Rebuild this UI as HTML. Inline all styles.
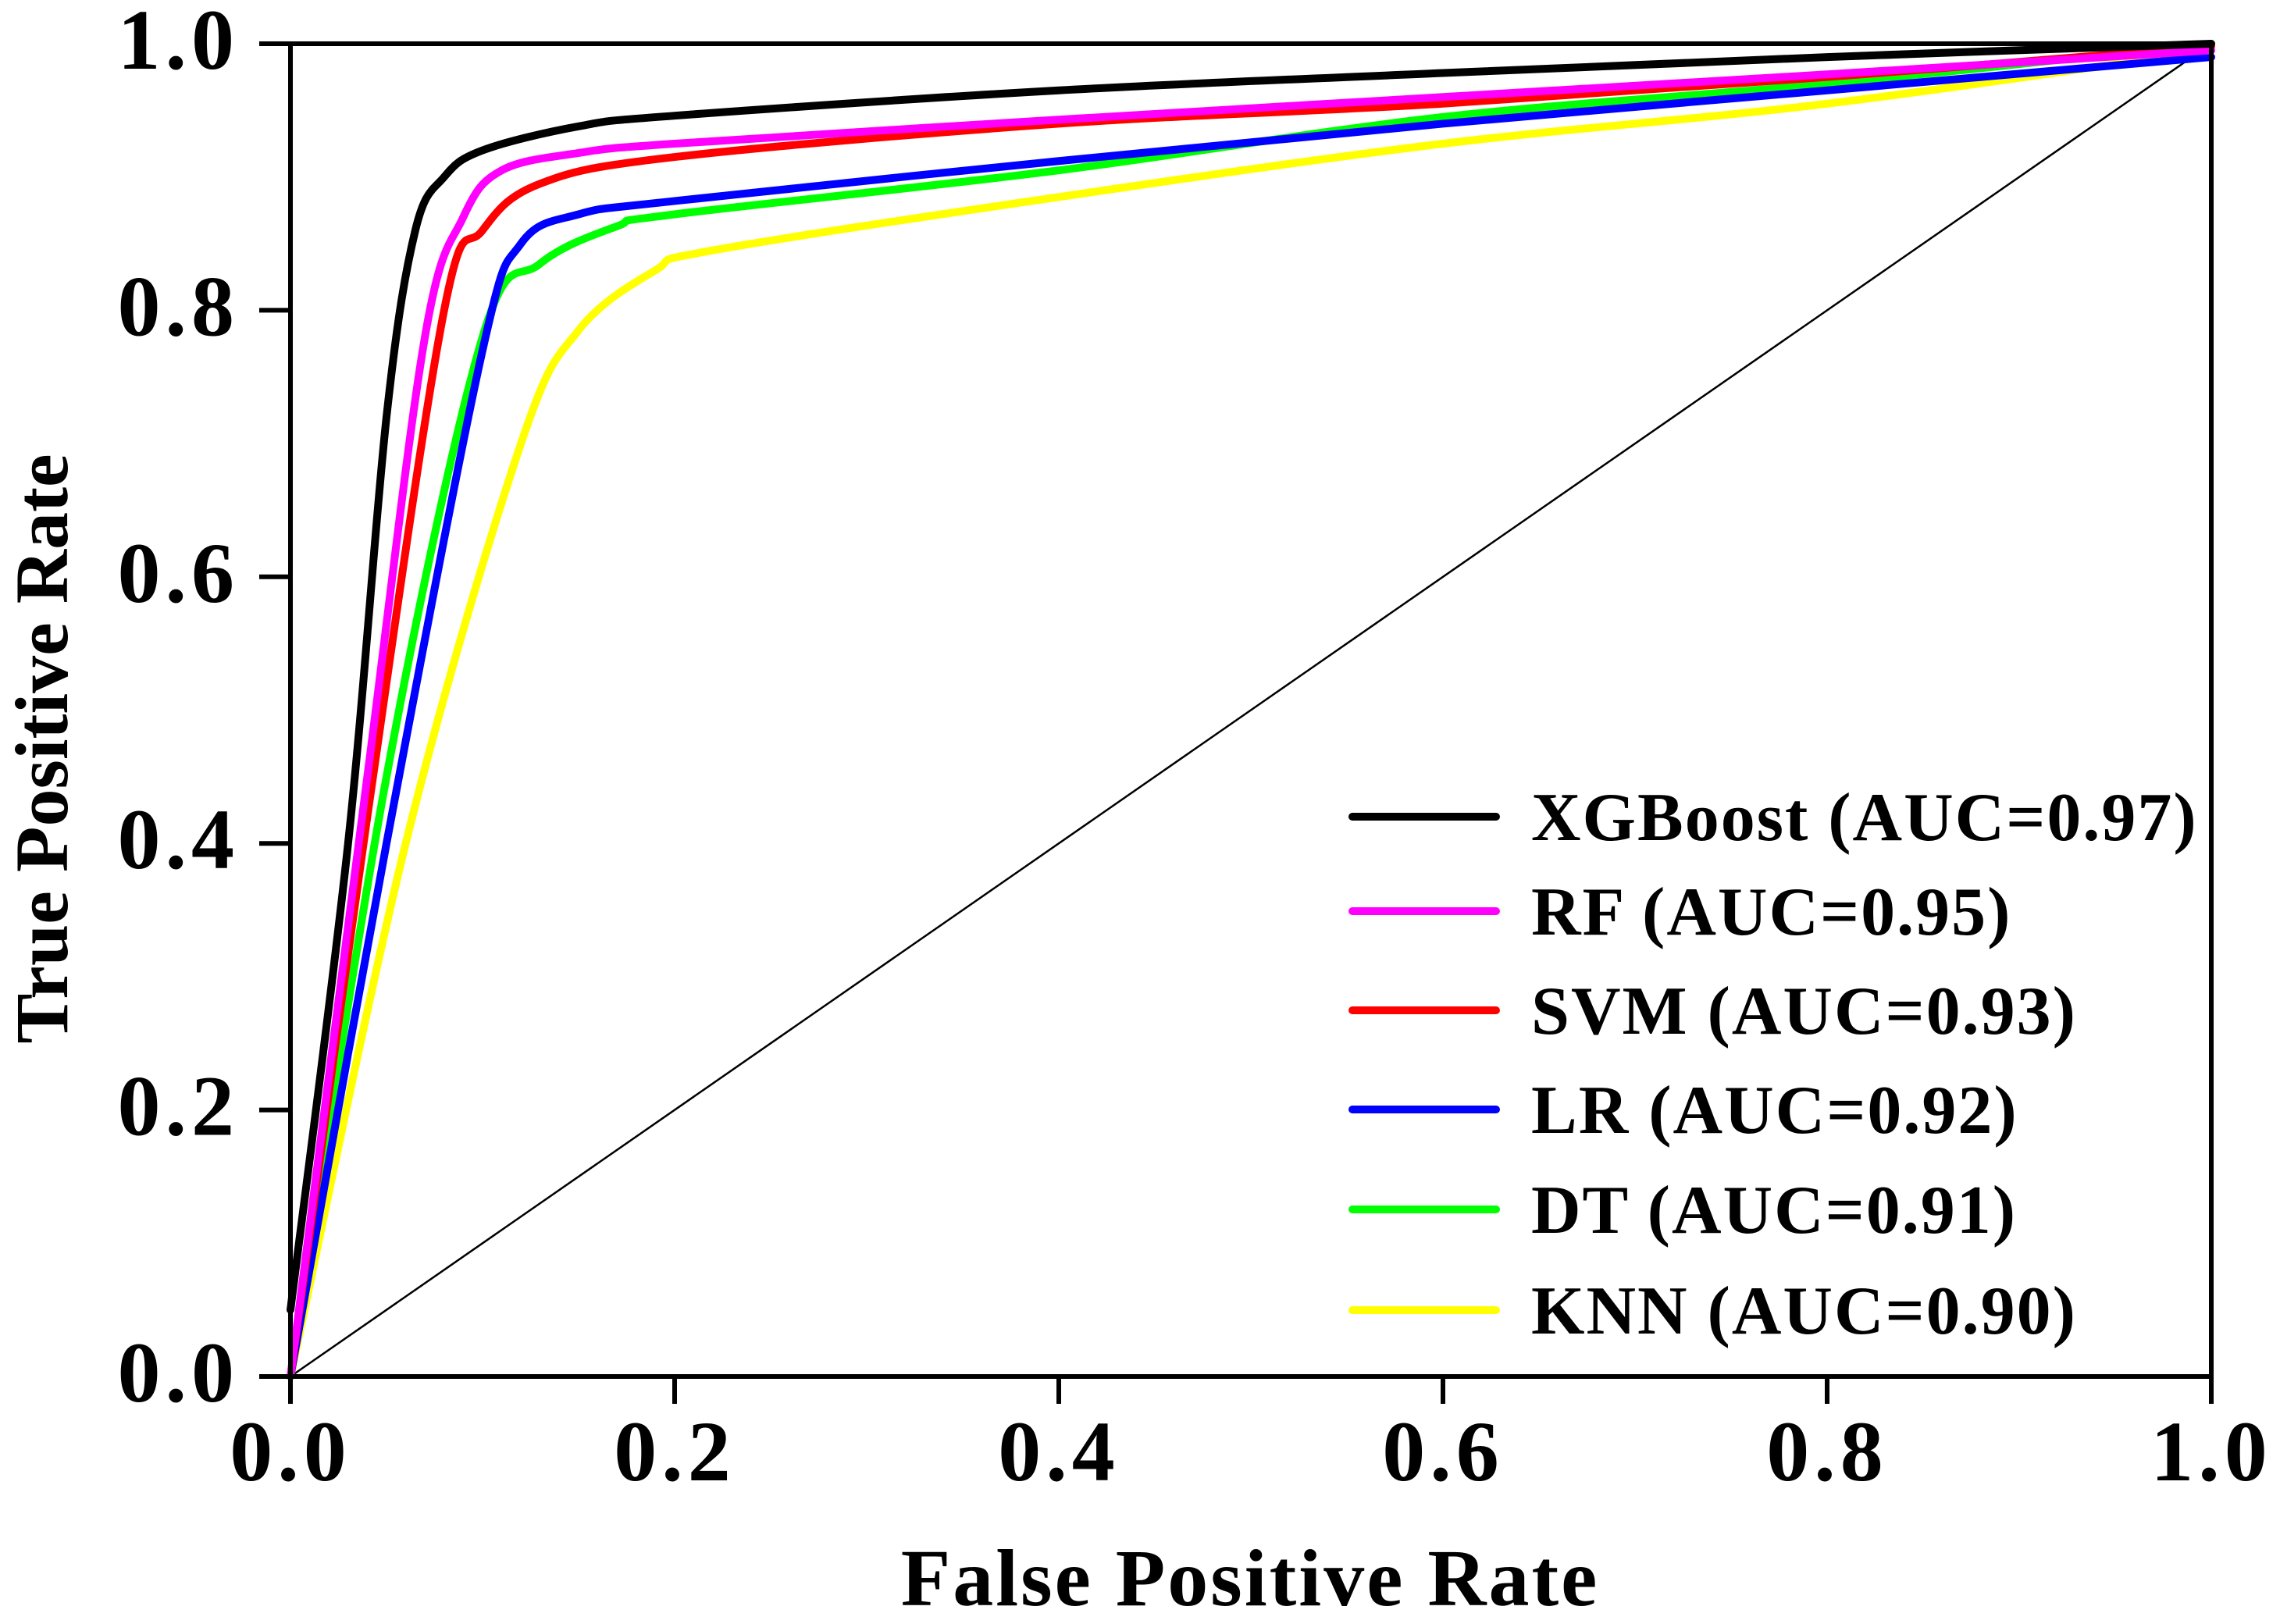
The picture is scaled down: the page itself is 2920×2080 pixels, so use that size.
<!DOCTYPE html>
<html><head><meta charset="utf-8"><style>
html,body{margin:0;padding:0;background:#fff;}
svg{display:block;font-family:"Liberation Serif",serif;font-weight:bold;}
</style></head><body>
<svg id="chart" width="2920" height="2080" viewBox="0 0 2920 2080">
<g id="plot"></g>
</svg>
<script>
const seriesNames = ["XGBoost (AUC=0.97)","RF (AUC=0.95)","SVM (AUC=0.93)","LR (AUC=0.92)","DT (AUC=0.91)","KNN (AUC=0.90)"];
const seriesKeys = ["xgboost","rf","svm","lr","dt","knn"];
const seriesColors = ["#000000","#ff00ff","#ff0000","#0000ff","#00ff00","#ffff00"];
const xgbFpr = [0,0.03,0.05,0.065,0.08,0.1,0.15,0.2,0.4,0.6,0.8,1];
const xgbTpr = [0.05,0.4,0.72,0.86,0.9,0.92,0.938,0.946,0.965,0.978,0.99,1];
const rfFpr = [0,0.04,0.07,0.09,0.11,0.15,0.2,0.4,0.6,0.8,1];
const rfTpr = [0,0.45,0.78,0.87,0.905,0.918,0.925,0.943,0.96,0.977,0.995];
const svmFpr = [0,0.04,0.08,0.1,0.13,0.2,0.4,0.6,0.8,1];
const svmTpr = [0,0.42,0.8,0.86,0.895,0.915,0.94,0.955,0.975,0.998];
const lrFpr = [0,0.05,0.1,0.12,0.15,0.2,0.4,0.6,0.8,1];
const lrTpr = [0,0.4,0.77,0.85,0.872,0.882,0.912,0.94,0.965,0.99];
const dtFpr = [0,0.05,0.1,0.13,0.17,0.2,0.4,0.6,0.8,1];
const dtTpr = [0,0.45,0.78,0.835,0.863,0.872,0.905,0.945,0.97,1];
const knnFpr = [0,0.06,0.12,0.15,0.19,0.22,0.4,0.6,0.8,1];
const knnTpr = [0,0.4,0.7,0.785,0.83,0.845,0.885,0.925,0.955,0.995];
const xTicks = [0,0.2,0.4,0.6,0.8,1.0];
const yTicks = [0,0.2,0.4,0.6,0.8,1.0];
const tickLabels = ["0.0","0.2","0.4","0.6","0.8","1.0"];

const X0=372,X1=2832,Y0=1763,Y1=56;
const sx=v=>X0+v*(X1-X0);
const sy=v=>Y0-v*(Y0-Y1);
const NS="http://www.w3.org/2000/svg";
const g=document.getElementById('plot');
function mk(tag,attrs,parent){const e=document.createElementNS(NS,tag);for(const k in attrs)e.setAttribute(k,attrs[k]);(parent||g).appendChild(e);return e;}
function smooth(xs,ys){
  const p=xs.map((x,i)=>[sx(x),sy(ys[i])]);
  let d="M"+p[0][0]+","+p[0][1];
  for(let i=0;i<p.length-1;i++){
    const a=p[Math.max(0,i-1)],b=p[i],c=p[i+1],e=p[Math.min(p.length-1,i+2)];
    const c1=[b[0]+(c[0]-a[0])/6,b[1]+(c[1]-a[1])/6],c2=[c[0]-(e[0]-b[0])/6,c[1]-(e[1]-b[1])/6];
    d+=" C"+c1[0]+","+c1[1]+" "+c2[0]+","+c2[1]+" "+c[0]+","+c[1];
  }
  return d;
}
let diag=mk('line',{x1:sx(0),y1:sy(0),x2:sx(1),y2:sy(1),stroke:"#000","stroke-width":2.5});


const allF=[xgbFpr,rfFpr,svmFpr,lrFpr,dtFpr,knnFpr];
const allT=[xgbTpr,rfTpr,svmTpr,lrTpr,dtTpr,knnTpr];
for(let i=allF.length-1;i>=0;i--){
  const p=mk('path',{d:smooth(allF[i],allT[i]),fill:"none",stroke:seriesColors[i],"stroke-width":10,"stroke-linejoin":"round","stroke-linecap":"round"});
  
  
}
const fr=mk('rect',{x:X0,y:Y1,width:X1-X0,height:Y0-Y1,fill:"none",stroke:"#000","stroke-width":6});


xTicks.forEach((v,i)=>{
  const t=mk('line',{x1:sx(v),y1:Y0,x2:sx(v),y2:Y0+35,stroke:"#000","stroke-width":6});
  
  
  const l=mk('text',{x:sx(v),y:1896,"font-size":110,"text-anchor":"middle","letter-spacing":6});
  l.textContent=tickLabels[i];
  
  
});
yTicks.forEach((v,i)=>{
  const t=mk('line',{x1:X0-40,y1:sy(v),x2:X0,y2:sy(v),stroke:"#000","stroke-width":6});
  
  
  const l=mk('text',{x:306,y:sy(v)+32,"font-size":110,"text-anchor":"end","letter-spacing":6});
  l.textContent=tickLabels[i];
  
  
});
const xt=mk('text',{x:1601,y:2056,"font-size":104,"text-anchor":"middle","letter-spacing":3});
xt.textContent="False Positive Rate";


const yt=mk('text',{x:0,y:0,"font-size":96,"text-anchor":"middle",transform:"translate(86,959) rotate(-90)"});
yt.textContent="True Positive Rate";


const legY=[1046,1167,1294,1421,1549,1678];
seriesNames.forEach((n,i)=>{
  const lg=mk('g',{});
  
  
  mk('line',{x1:1732,y1:legY[i],x2:1916,y2:legY[i],stroke:seriesColors[i],"stroke-width":10,"stroke-linecap":"round"},lg);
  const t=mk('text',{x:1961,y:legY[i]+30,"font-size":88,"letter-spacing":2},lg);
  t.textContent=n;
});
</script>
</body></html>
